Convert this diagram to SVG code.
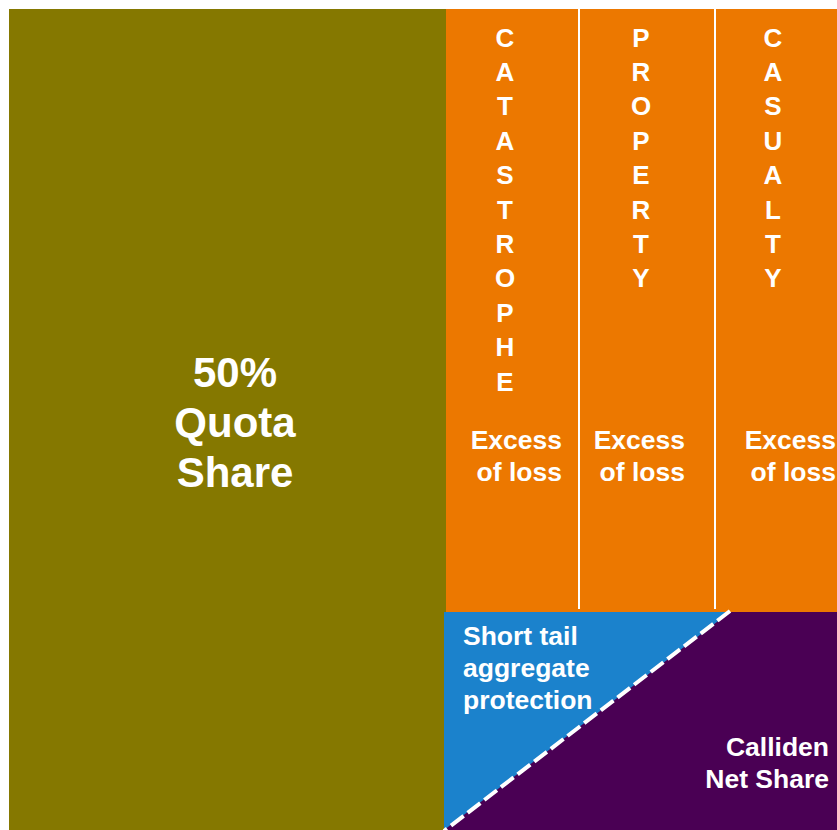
<svg xmlns="http://www.w3.org/2000/svg" width="837" height="830" viewBox="0 0 837 830">
  <style>
    text { font-family: "Liberation Sans", Arial, sans-serif; font-weight: bold; fill: #ffffff; }
    .big { font-size: 42px; text-anchor: middle; }
    .lbl { font-size: 26.5px; }
    .vert { font-size: 26px; text-anchor: middle; }
    .end { text-anchor: end; }
    .sep { stroke: #ffffff; stroke-width: 2; }
  </style>
  <rect width="837" height="830" fill="#ffffff"/>

  <!-- quota share block -->
  <g id="quota-share">
    <rect x="9" y="9" width="437" height="821" fill="#857800"/>
    <text class="big" x="235" y="387">50%</text>
    <text class="big" x="235" y="437">Quota</text>
    <text class="big" x="235" y="487">Share</text>
  </g>

  <!-- excess of loss layers -->
  <g id="excess-of-loss">
    <rect x="446" y="9" width="391" height="603" fill="#ec7800"/>
    <line class="sep" x1="579" y1="9" x2="579" y2="609"/>
    <line class="sep" x1="715" y1="9" x2="715" y2="609"/>
  </g>

  <g id="catastrophe">
    <g class="vert">
      <text x="505" y="46.5">C</text>
      <text x="505" y="80.9">A</text>
      <text x="505" y="115.3">T</text>
      <text x="505" y="149.7">A</text>
      <text x="505" y="184.1">S</text>
      <text x="505" y="218.5">T</text>
      <text x="505" y="252.9">R</text>
      <text x="505" y="287.3">O</text>
      <text x="505" y="321.7">P</text>
      <text x="505" y="356.1">H</text>
      <text x="505" y="390.5">E</text>
    </g>
    <text class="lbl end" x="562" y="449">Excess</text>
    <text class="lbl end" x="562" y="481">of loss</text>
  </g>

  <g id="property">
    <g class="vert">
      <text x="641" y="46.5">P</text>
      <text x="641" y="80.9">R</text>
      <text x="641" y="115.3">O</text>
      <text x="641" y="149.7">P</text>
      <text x="641" y="184.1">E</text>
      <text x="641" y="218.5">R</text>
      <text x="641" y="252.9">T</text>
      <text x="641" y="287.3">Y</text>
    </g>
    <text class="lbl end" x="685" y="449">Excess</text>
    <text class="lbl end" x="685" y="481">of loss</text>
  </g>

  <g id="casualty">
    <g class="vert">
      <text x="773" y="46.5">C</text>
      <text x="773" y="80.9">A</text>
      <text x="773" y="115.3">S</text>
      <text x="773" y="149.7">U</text>
      <text x="773" y="184.1">A</text>
      <text x="773" y="218.5">L</text>
      <text x="773" y="252.9">T</text>
      <text x="773" y="287.3">Y</text>
    </g>
    <text class="lbl end" x="836" y="449">Excess</text>
    <text class="lbl end" x="836" y="481">of loss</text>
  </g>

  <!-- net share and aggregate protection -->
  <g id="net-share">
    <rect x="444" y="612" width="393" height="218" fill="#4a0054"/>
    <text class="lbl end" x="829" y="756">Calliden</text>
    <text class="lbl end" x="829" y="788">Net Share</text>
  </g>

  <g id="aggregate-protection">
    <polygon points="444,612 730,612 444,830" fill="#1b82cc"/>
    <text class="lbl" x="463" y="645">Short tail</text>
    <text class="lbl" x="463" y="677">aggregate</text>
    <text class="lbl" x="463" y="709">protection</text>
  </g>

  <g id="connectors">
    <line x1="730" y1="611" x2="444" y2="831" stroke="#ffffff" stroke-width="4" stroke-dasharray="16 5"/>
  </g>
</svg>
